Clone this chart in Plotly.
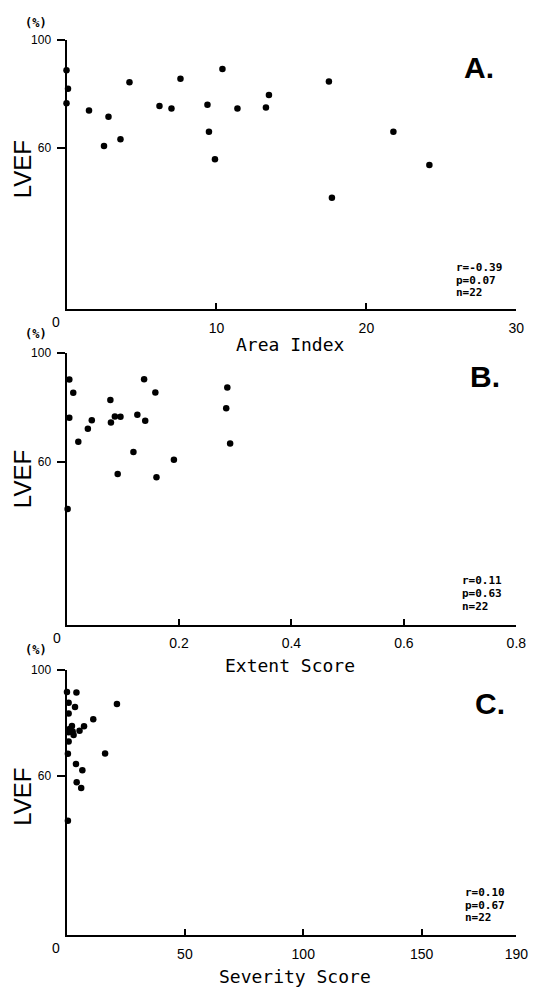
import plotly.graph_objects as go

# ---- data ----
area_index = [0.0, 0.1, 0.0, 1.5, 2.8, 2.5, 3.6, 4.2, 6.2, 7.0, 7.6, 9.4, 9.5, 9.9, 10.4, 11.4, 13.3, 13.5, 17.5, 17.7, 21.8, 24.2]
lvef_a = [88.8, 81.9, 76.5, 73.8, 71.5, 60.6, 63.1, 84.3, 75.5, 74.5, 85.6, 75.9, 65.9, 55.7, 89.2, 74.5, 74.9, 79.6, 84.6, 41.3, 65.9, 53.5]

extent_score = [0.005, 0.012, 0.005, 0.021, 0.038, 0.045, 0.078, 0.079, 0.086, 0.096, 0.091, 0.119, 0.126, 0.138, 0.140, 0.158, 0.160, 0.191, 0.286, 0.284, 0.291, 0.002]
lvef_b = [90.2, 85.3, 76.1, 67.3, 72.1, 75.2, 82.6, 74.4, 76.6, 76.5, 55.4, 63.5, 77.2, 90.3, 75.0, 85.4, 54.2, 60.7, 87.2, 79.6, 66.6, 42.5]

severity_score = [0.2, 4.2, 0.9, 3.6, 0.9, 21.3, 11.3, 7.4, 5.5, 2.3, 1.3, 2.6, 3.0, 0.9, 0.9, 0.6, 16.3, 4.0, 6.7, 4.3, 6.2, 0.6]
lvef_c = [91.6, 91.4, 87.5, 85.9, 83.5, 87.0, 81.3, 78.7, 77.0, 78.8, 77.6, 76.7, 75.4, 76.4, 72.9, 68.3, 68.4, 64.5, 62.1, 57.6, 55.4, 43.1]

x_ticks_a = [10, 20, 30]
x_ticks_b = [0.2, 0.4, 0.6, 0.8]
x_ticks_b_text = ["0.2", "0.4", "0.6", "0.8"]
x_ticks_c = [50, 100, 150, 190]
y_ticks = [60, 100]

panel_letters = ["A.", "B.", "C."]
x_titles = ["Area Index", "Extent Score", "Severity Score"]
stats = [["r=-0.39", "p=0.07", "n=22"],
         ["r=0.11", "p=0.63", "n=22"],
         ["r=0.10", "p=0.67", "n=22"]]

W, H = 544, 988
def px(x):
    return x / W
def py(y):
    return 1 - y / H

fig = go.Figure()
series = [(area_index, lvef_a), (extent_score, lvef_b), (severity_score, lvef_c)]
for i, (xs, ys) in enumerate(series):
    sfx = "" if i == 0 else str(i + 1)
    fig.add_trace(go.Scatter(x=xs, y=ys, mode="markers", xaxis="x" + sfx, yaxis="y" + sfx,
                             marker=dict(color="black", size=6.5), cliponaxis=False,
                             showlegend=False, hoverinfo="x+y"))

xdom = [px(68), px(528)]
ydoms = [[py(304), py(33.3)], [py(622), py(348.3)], [py(935), py(667.3)]]
xranges = [[0, 30], [0, 0.8], [0, 190]]
xtickvals = [x_ticks_a, x_ticks_b, x_ticks_c]
xticktext = [[str(v) for v in x_ticks_a], x_ticks_b_text, [str(v) for v in x_ticks_c]]

tickfont = dict(family="Liberation Sans, Arial, sans-serif", size=14, color="black")
layout = dict(width=W, height=H, margin=dict(l=0, r=0, t=0, b=0),
              paper_bgcolor="white", plot_bgcolor="white", showlegend=False)
for i in range(3):
    sfx = "" if i == 0 else str(i + 1)
    layout["xaxis" + sfx] = dict(domain=xdom, range=xranges[i], anchor="y" + sfx,
                                 showgrid=False, zeroline=False, showline=True,
                                 linecolor="black", linewidth=2,
                                 ticks="inside", ticklen=6, tickwidth=2, tickcolor="black",
                                 tickvals=xtickvals[i], ticktext=xticktext[i],
                                 tickfont=tickfont, ticklabelstandoff=5, fixedrange=True)
    layout["yaxis" + sfx] = dict(domain=ydoms[i], range=[0, 100], anchor="x" + sfx,
                                 showgrid=False, zeroline=False, showline=True,
                                 linecolor="black", linewidth=2,
                                 ticks="outside", ticklen=8, tickwidth=2, tickcolor="black",
                                 tickvals=y_ticks, ticktext=[str(v) for v in y_ticks],
                                 tickfont=dict(family="Liberation Sans, Arial, sans-serif", size=12, color="black"),
                                 ticklabelstandoff=3, fixedrange=True)
fig.update_layout(**layout)

mono = "DejaVu Sans Mono, monospace"
narrow = "Liberation Sans Narrow, Arial Narrow, Liberation Sans, sans-serif"
ann = []
def add(text, x, y, size, family, xanchor="center", yanchor="middle", angle=0, bold=False):
    t = "<b>%s</b>" % text if bold else text
    ann.append(dict(text=t, x=px(x), y=py(y), xref="paper", yref="paper",
                    xanchor=xanchor, yanchor=yanchor, showarrow=False, textangle=angle,
                    font=dict(family=family, size=size, color="black")))

pct_y = [16, 329, 648]
lvef_y = [163, 475, 795]
zero_pos = [(57, 317), (58, 635), (57, 948)]
letter_pos = [(472, 61), (479, 372), (484, 701)]
title_pos = [(297, 340), (297, 663), (302, 976)]
stat_pos = [(464, [262, 275, 288]), (470, [578, 591, 604]), (473, [892, 905, 917])]

for i in range(3):
    add("(%)", 37, pct_y[i], 12, mono, bold=True)
    add("LVEF", 23, lvef_y[i], 24, narrow, angle=-90)
    add("0", zero_pos[i][0], zero_pos[i][1], 14, "Liberation Sans, Arial, sans-serif")
    add(panel_letters[i], letter_pos[i][0], letter_pos[i][1], 30, narrow, xanchor="left", bold=True)
    add(x_titles[i], title_pos[i][0], title_pos[i][1], 18, mono)
    sx, sys_ = stat_pos[i]
    for line, yy in zip(stats[i], sys_):
        add(line, sx, yy, 11, mono, xanchor="left", bold=True)

fig.update_layout(annotations=ann)
fig.write_html("out.html")
